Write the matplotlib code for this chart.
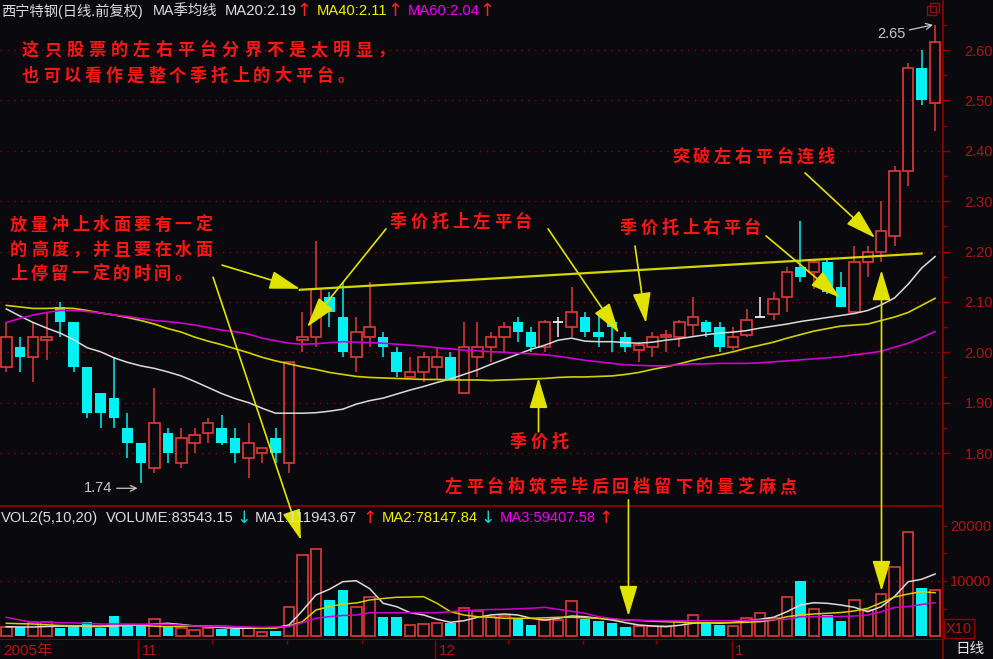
import matplotlib
matplotlib.use("Agg")
import matplotlib.pyplot as plt
from matplotlib.patches import Rectangle

# ---- data (西宁特钢 daily, 70 sessions) ----
opens = [1.97, 2.01, 1.99, 2.025, 2.09, 2.06, 1.97, 1.92, 1.91, 1.85,
         1.82, 1.77, 1.84, 1.78, 1.82, 1.84, 1.85, 1.83, 1.79, 1.80,
         1.83, 1.78, 2.025, 2.03, 2.11, 2.07, 1.99, 2.03, 2.03, 2.00,
         1.95, 1.96, 1.97, 1.99, 1.92, 1.99, 2.01, 2.03, 2.06, 2.04,
         2.01, 2.06, 2.05, 2.07, 2.04, 2.06, 2.03, 2.005, 2.01, 2.03,
         2.03, 2.055, 2.06, 2.05, 2.01, 2.035, 2.07, 2.075, 2.11, 2.17,
         2.16, 2.18, 2.13, 2.08, 2.18, 2.20, 2.23, 2.36, 2.565, 2.495]
highs = [2.06, 2.03, 2.06, 2.08, 2.10, 2.06, 1.97, 1.92, 1.99, 1.88,
         1.82, 1.93, 1.85, 1.85, 1.85, 1.87, 1.875, 1.85, 1.86, 1.81,
         1.85, 1.98, 2.08, 2.22, 2.12, 2.14, 2.07, 2.14, 2.04, 2.01,
         1.99, 2.00, 2.01, 2.00, 2.06, 2.06, 2.04, 2.06, 2.07, 2.05,
         2.065, 2.07, 2.13, 2.08, 2.08, 2.07, 2.04, 2.02, 2.04, 2.045,
         2.065, 2.11, 2.065, 2.06, 2.05, 2.085, 2.11, 2.12, 2.17, 2.26,
         2.185, 2.185, 2.16, 2.21, 2.21, 2.30, 2.37, 2.575, 2.60, 2.65]
lows = [1.96, 1.96, 1.94, 1.985, 2.03, 1.96, 1.87, 1.85, 1.85, 1.79,
        1.74, 1.76, 1.78, 1.77, 1.80, 1.82, 1.815, 1.78, 1.75, 1.78,
        1.78, 1.76, 2.00, 2.01, 2.05, 1.99, 1.96, 2.01, 1.99, 1.95,
        1.95, 1.94, 1.945, 1.945, 1.92, 1.95, 1.98, 2.00, 2.02, 2.00,
        2.00, 2.03, 2.03, 2.03, 2.01, 2.00, 2.00, 1.98, 1.99, 2.00,
        2.01, 2.03, 2.03, 2.00, 2.005, 2.03, 2.07, 2.065, 2.08, 2.14,
        2.125, 2.115, 2.09, 2.08, 2.15, 2.18, 2.21, 2.33, 2.49, 2.44]
closes = [2.03, 1.99, 2.03, 2.03, 2.06, 1.97, 1.88, 1.88, 1.87, 1.82,
          1.78, 1.86, 1.80, 1.83, 1.835, 1.86, 1.82, 1.80, 1.82, 1.81,
          1.80, 1.98, 2.03, 2.125, 2.08, 2.00, 2.04, 2.05, 2.01, 1.96,
          1.96, 1.99, 1.99, 1.945, 2.01, 2.01, 2.03, 2.05, 2.04, 2.01,
          2.06, 2.06, 2.08, 2.04, 2.03, 2.05, 2.01, 2.015, 2.03, 2.035,
          2.06, 2.07, 2.04, 2.01, 2.03, 2.065, 2.07, 2.105, 2.16, 2.15,
          2.18, 2.12, 2.09, 2.18, 2.20, 2.24, 2.36, 2.565, 2.50, 2.615]

ma20 = [2.086, 2.072, 2.059, 2.048, 2.038, 2.025, 2.009, 2.001, 1.989, 1.980,
        1.973, 1.968, 1.961, 1.953, 1.942, 1.930, 1.918, 1.908, 1.900, 1.889,
        1.879, 1.879, 1.879, 1.880, 1.883, 1.887, 1.897, 1.904, 1.909, 1.917,
        1.925, 1.932, 1.940, 1.947, 1.956, 1.965, 1.976, 1.986, 1.996, 2.006,
        2.014, 2.024, 2.028, 2.022, 2.021, 2.021, 2.019, 2.018, 2.020, 2.024,
        2.027, 2.031, 2.035, 2.038, 2.040, 2.043, 2.048, 2.052, 2.056, 2.061,
        2.065, 2.069, 2.073, 2.077, 2.083, 2.094, 2.108, 2.135, 2.167, 2.190]
ma40 = [2.093, 2.090, 2.087, 2.087, 2.088, 2.087, 2.083, 2.078, 2.074, 2.069,
        2.063, 2.056, 2.047, 2.040, 2.030, 2.022, 2.015, 2.007, 1.999, 1.990,
        1.983, 1.977, 1.971, 1.966, 1.960, 1.956, 1.952, 1.950, 1.949, 1.948,
        1.947, 1.946, 1.946, 1.945, 1.945, 1.945, 1.944, 1.945, 1.946, 1.947,
        1.948, 1.950, 1.951, 1.951, 1.952, 1.953, 1.956, 1.960, 1.966, 1.971,
        1.977, 1.984, 1.990, 1.995, 2.001, 2.008, 2.014, 2.020, 2.028, 2.035,
        2.042, 2.047, 2.052, 2.054, 2.056, 2.063, 2.070, 2.079, 2.093, 2.107]
ma60 = [2.059, 2.067, 2.074, 2.079, 2.083, 2.083, 2.081, 2.078, 2.074, 2.071,
        2.067, 2.063, 2.061, 2.058, 2.054, 2.049, 2.044, 2.041, 2.036, 2.028,
        2.023, 2.018, 2.016, 2.017, 2.019, 2.021, 2.020, 2.019, 2.018, 2.016,
        2.014, 2.012, 2.009, 2.007, 2.004, 2.003, 2.001, 2.000, 1.998, 1.997,
        1.995, 1.992, 1.988, 1.984, 1.981, 1.978, 1.975, 1.974, 1.973, 1.973,
        1.975, 1.977, 1.977, 1.978, 1.978, 1.978, 1.979, 1.981, 1.983, 1.985,
        1.987, 1.989, 1.991, 1.995, 1.998, 2.002, 2.010, 2.018, 2.029, 2.041]

# volume in the panel's "X10" units
volume = [1690, 1690, 2600, 2600, 1400, 1820, 2490, 1400, 3640, 2000,
          1820, 3090, 1820, 1510, 1090, 1510, 1210, 1210, 1510, 790,
          970, 5330, 14730, 15820, 6550, 8360, 5330, 7150, 3390, 3390,
          2000, 2180, 2300, 2300, 5150, 4600, 3510, 3640, 3030, 2000,
          2910, 2910, 6360, 3030, 2730, 2300, 1580, 1820, 1820, 1820,
          2600, 3820, 2420, 2000, 1820, 3330, 4240, 3330, 7150, 10000,
          4910, 3820, 2730, 6550, 4730, 7640, 12600, 18960, 8670, 8360]
vol_ma1 = [1690, 1640, 1640, 1730, 1780, 1820, 1760, 1690, 1820, 1910,
           2000, 2180, 2310, 2090, 1820, 1690, 1550, 1400, 1400, 1450,
           1510, 2000, 4600, 7450, 8490, 9870, 10050, 8600, 5940, 5330,
           4240, 3820, 3040, 2490, 2780, 3400, 3820, 4000, 3820, 3220,
           2910, 3220, 3640, 3510, 3220, 2910, 2420, 2000, 1820, 1690,
           1950, 2310, 2420, 2310, 2490, 2780, 3040, 3400, 4420, 5640,
           6050, 5940, 5640, 5220, 4420, 5330, 7200, 9870, 10310, 11270]
vol_ma2 = [2310, 2240, 2180, 2040, 1910, 1870, 1840, 1820, 1910, 2000,
           1910, 1780, 1690, 1760, 1820, 1820, 1760, 1690, 1550, 1400,
           1450, 1820, 2600, 4730, 5330, 5820, 6000, 6550, 6820, 7040,
           7090, 7150, 5940, 4420, 3820, 3510, 3400, 3220, 3220, 3220,
           3310, 3400, 3400, 3310, 3220, 3060, 2910, 2820, 2690, 2600,
           2510, 2420, 2420, 2420, 2420, 2490, 2600, 2910, 3510, 3820,
           4000, 4130, 4270, 4550, 5040, 6050, 7090, 7640, 8060, 7870]
vol_ma3 = [3400, 2910, 2490, 2460, 2420, 2380, 2290, 2180, 2180, 2180,
           2160, 2150, 2130, 1960, 1820, 1780, 1730, 1690, 1640, 1580,
           1640, 1690, 2420, 3220, 3510, 3730, 3820, 4240, 4240, 4240,
           4240, 4240, 4240, 4420, 4600, 4730, 4820, 4850, 4950, 5040,
           5220, 4850, 4490, 4130, 3510, 3180, 2910, 2850, 2820, 2780,
           2780, 2780, 2780, 2780, 2780, 2850, 2910, 2960, 3040, 3510,
           3510, 3510, 3550, 3640, 3820, 4420, 5180, 5360, 5730, 6050]

# platform trend line (candle index, price)
platform_x = [21.8, 68.0]
platform_y = [2.124, 2.196]

price_ticks = [1.80, 1.90, 2.00, 2.10, 2.20, 2.30, 2.40, 2.50, 2.60]
price_minor = [1.85, 1.95, 2.05, 2.15, 2.25, 2.35, 2.45, 2.55, 2.65]
vol_ticks = [10000, 20000]
vol_minor = [5000, 15000]
month_labels = ["2005年", "11", "12", "1"]
month_pos = [-0.47, 9.81, 31.87, 53.9]
week_pos = [15.28, 20.85, 26.4, 37.27, 42.84, 48.3]

# ---- style ----
W, H = 993, 659
BG = "#0a0a0e"
RED = "#e03a3a"
CYAN = "#00f2f2"
AXRED = "#900000"
LBLRED = "#b01414"
YEL = "#e2e200"
WHT = "#dcdcdc"
LAT = ["Liberation Sans", "Noto Sans CJK SC", "DejaVu Sans"]
CJK = ["Noto Sans CJK SC", "DejaVu Sans"]

n = len(closes)
xs = list(range(n))
XLIM = (-0.468, 69.59)
BW = 0.78


def fx(px):
    return px / W


def fy(py):
    return 1 - py / H


fig = plt.figure(figsize=(W / 100, H / 100), dpi=100, facecolor=BG)
ax = fig.add_axes([0, fy(506), fx(943), 506 / H], facecolor=BG)
axv = fig.add_axes([0, fy(640), fx(943), 134 / H], facecolor=BG)
axd = fig.add_axes([0, 0, fx(943), 19 / H], facecolor=BG)

for a in (ax, axv, axd):
    a.set_xlim(*XLIM)
    for s in a.spines.values():
        s.set_visible(False)
    a.spines["right"].set_visible(True)
    a.spines["right"].set_color(AXRED)
    a.spines["right"].set_linewidth(1.3)
axv.spines["top"].set_visible(True)
axv.spines["bottom"].set_visible(True)
for s in ("top", "bottom"):
    axv.spines[s].set_color(AXRED)
    axv.spines[s].set_linewidth(1.3)

# ---- price panel ----
ax.set_ylim(1.6948, 2.6993)
ax.yaxis.tick_right()
ax.set_yticks(price_ticks)
ax.set_yticklabels([f"{v:.2f}" for v in price_ticks])
ax.set_yticks(price_minor, minor=True)
ax.tick_params(axis="y", which="major", colors=AXRED, length=5, width=1,
               pad=10.5, labelcolor=LBLRED, labelsize=10.5)
ax.tick_params(axis="y", which="minor", colors=AXRED, length=3, width=1)
for lab in ax.get_yticklabels():
    lab.set_family(LAT)
ax.set_xticks([])
ax.grid(axis="y", which="major", color=AXRED, linestyle=(0, (1, 4)), linewidth=1)

for i in xs:
    o, h, l, c = opens[i], highs[i], lows[i], closes[i]
    if c > o:
        ax.vlines(i, c, h, color=RED, lw=1.1, zorder=2)
        ax.vlines(i, l, o, color=RED, lw=1.1, zorder=2)
        ax.bar(i, c - o, bottom=o, width=BW, facecolor="none", edgecolor=RED,
               linewidth=1.2, zorder=2)
    elif c < o:
        ax.vlines(i, l, h, color=CYAN, lw=1.1, zorder=2)
        ax.bar(i, o - c, bottom=c, width=BW, color=CYAN, linewidth=0, zorder=2)
    else:
        ax.vlines(i, l, h, color="#f0f0f0", lw=1.1, zorder=2)
        ax.hlines(o, i - BW / 2, i + BW / 2, color="#f0f0f0", lw=1.3, zorder=2)

ax.plot(xs, ma20, color=WHT, lw=1.1, zorder=3)
ax.plot(xs, ma40, color="#d2d200", lw=1.2, zorder=3)
ax.plot(xs, ma60, color="#d000d0", lw=1.2, zorder=3)
ax.plot(platform_x, platform_y, color="#d6d600", lw=1.6, zorder=3)

# high / low markers
hi = highs.index(max(highs))
lo = lows.index(min(lows))
ax.annotate(f"{highs[hi]:.2f}", xy=(hi - 0.15, highs[hi]), xytext=(-20, -6.5),
            textcoords="offset points", ha="right", va="center", color="#c8c8c8",
            fontsize=10.5, family=LAT,
            arrowprops=dict(arrowstyle="->", color="#c8c8c8", lw=0.9, shrinkA=1, shrinkB=0))
ax.annotate(f"{lows[lo]:.2f}", xy=(lo - 0.25, lows[lo] - 0.01), xytext=(-18, 0),
            textcoords="offset points", ha="right", va="center", color="#c8c8c8",
            fontsize=10.5, family=LAT,
            arrowprops=dict(arrowstyle="->", color="#c8c8c8", lw=0.9, shrinkA=1, shrinkB=0))

# ---- volume panel ----
axv.set_ylim(-727, 23636)
axv.yaxis.tick_right()
axv.set_yticks(vol_ticks)
axv.set_yticklabels([str(v) for v in vol_ticks])
axv.set_yticks(vol_minor, minor=True)
axv.tick_params(axis="y", which="major", colors=AXRED, length=3, width=1,
                pad=2, labelcolor=LBLRED, labelsize=10.5)
axv.tick_params(axis="y", which="minor", colors=AXRED, length=3, width=1)
for lab in axv.get_yticklabels():
    lab.set_family(LAT)
axv.set_xticks([])
axv.axhline(vol_ticks[0], color=AXRED, linestyle=(0, (1, 4)), linewidth=1)

up_x = [i for i in xs if closes[i] >= opens[i]]
dn_x = [i for i in xs if closes[i] < opens[i]]
axv.bar(up_x, [volume[i] for i in up_x], width=BW, facecolor="none",
        edgecolor=RED, linewidth=1.2, zorder=2)
axv.bar(dn_x, [volume[i] for i in dn_x], width=BW, color=CYAN, linewidth=0, zorder=2)
axv.plot(xs, vol_ma1, color=WHT, lw=1.1, zorder=3)
axv.plot(xs, vol_ma2, color="#d2d200", lw=1.1, zorder=3)
axv.plot(xs, vol_ma3, color="#d000d0", lw=1.1, zorder=3)
axv.text(1.003, 1360, "X10", transform=axv.get_yaxis_transform(), color=LBLRED,
         fontsize=10.5, family=LAT, va="center", ha="left",
         bbox=dict(boxstyle="square,pad=0.15", facecolor="none", edgecolor=AXRED, lw=1))

# ---- date strip ----
axd.set_ylim(0, 1)
axd.set_yticks([])
axd.xaxis.tick_top()
axd.set_xticks(month_pos[1:])
axd.set_xticklabels([])
axd.set_xticks(week_pos, minor=True)
axd.tick_params(axis="x", which="major", direction="in", length=14, width=1, colors=AXRED)
axd.tick_params(axis="x", which="minor", direction="in", length=3, width=1, colors=AXRED)
for lab, p in zip(month_labels, month_pos):
    axd.annotate(lab, (p, 0.42), xycoords=("data", "axes fraction"), xytext=(2.5, 0),
                 textcoords="offset points", va="center", ha="left", color=LBLRED,
                 fontsize=11, family=LAT)
fig.text(fx(955), fy(649), "日线", color="#e8e8e8", fontsize=10.5, family=CJK,
         va="center", ha="left")

# ---- headers ----
hdr = [(1, "西宁特钢(日线.前复权)", WHT, 10.3), (153, "MA季均线", WHT, 10.4),
       (225, f"MA20:{ma20[-1]:.2f}", WHT, 10.6), (317, f"MA40:{ma40[-1]:.2f}", "#f0f000", 10.6),
       (408, f"MA60:{ma60[-1]:.2f}", "#f000f0", 10.6)]
for x, s, col, sz in hdr:
    fig.text(fx(x), fy(11), s, color=col, fontsize=sz, family=LAT, va="center", ha="left")
for x in (296, 387, 479):
    fig.text(fx(x), fy(11), "↑", color="#ff2020", fontsize=13, family=["DejaVu Sans"],
             va="center", ha="left")

vhdr = [(1, "VOL2(5,10,20)", WHT), (106, "VOLUME:83543.15", WHT),
        (255, "MA1:111943.67", WHT), (382, "MA2:78147.84", "#f0f000"),
        (500, "MA3:59407.58", "#f000f0")]
for x, s, col in vhdr:
    fig.text(fx(x), fy(518), s, color=col, fontsize=10.6, family=LAT, va="center", ha="left")
for x, s, col in ((236, "↓", "#20d0d0"), (362, "↑", "#ff2020"),
                  (480, "↓", "#20d0d0"), (598, "↑", "#ff2020")):
    fig.text(fx(x), fy(518), s, color=col, fontsize=12.5, family=["DejaVu Sans"],
             va="center", ha="left")

# small window icon top right
for x0, y0 in ((927, 15), (930, 12)):
    fig.patches.append(Rectangle((fx(x0), fy(y0)), 9 / W, 9 / H, transform=fig.transFigure,
                                 facecolor="none", edgecolor="#8a1010", lw=1))

# ---- red commentary text (x, y in pixels, character advance) ----
notes = [("这只股票的左右平台分界不是太明显，", 22, 50, 22.2),
         ("也可以看作是整个季托上的大平台。", 22, 76, 21.0),
         ("突破左右平台连线", 672, 157, 20.8),
         ("放量冲上水面要有一定", 10, 225, 20.6),
         ("的高度，并且要在水面", 10, 250, 20.6),
         ("上停留一定的时间。", 10, 274, 20.6),
         ("季价托上左平台", 390, 222, 20.8),
         ("季价托上右平台", 620, 228, 20.6),
         ("季价托", 510, 442, 20.8),
         ("左平台构筑完毕后回档留下的量芝麻点", 445, 487, 20.9)]
for s, x, y, adv in notes:
    for k, ch in enumerate(s):
        fig.text(fx(x + k * adv), fy(y), ch, color="#ff1414", fontsize=12.3,
                 fontweight="bold", family=CJK, va="center", ha="left")

# ---- yellow arrows ----
head = "-|>,head_length=1.0,head_width=0.3"
aprops = dict(arrowstyle=head, mutation_scale=19, color=YEL, lw=1.2, shrinkA=0, shrinkB=0)

price_arrows = [((16.03, 2.173), (21.82, 2.126)),
                ((28.21, 2.245), (22.34, 2.050)),
                ((40.25, 2.245), (45.52, 2.038)),
                ((46.71, 2.211), (47.52, 2.058)),
                ((56.44, 2.231), (61.94, 2.108)),
                ((59.34, 2.356), (64.54, 2.227)),
                ((39.54, 1.842), (39.54, 1.949))]
for tail, tip in price_arrows:
    ax.annotate("", xy=tip, xytext=tail, arrowprops=aprops, zorder=5)

# arrows that run from the price panel into the volume panel
cross_arrows = [((15.36, 2.149), (21.89, 17455), head),
                ((46.22, 1.707), (46.22, 3636), head),
                ((65.02, 2.163), (65.02, 8182), "<|-|>,head_length=1.0,head_width=0.3")]
for tail, tip, style in cross_arrows:
    p = dict(aprops)
    p["arrowstyle"] = style
    axv.annotate("", xy=tip, xycoords="data", xytext=tail, textcoords=ax.transData,
                 arrowprops=p, annotation_clip=False, zorder=5)

fig.savefig("out.png", dpi=100, facecolor=BG)
